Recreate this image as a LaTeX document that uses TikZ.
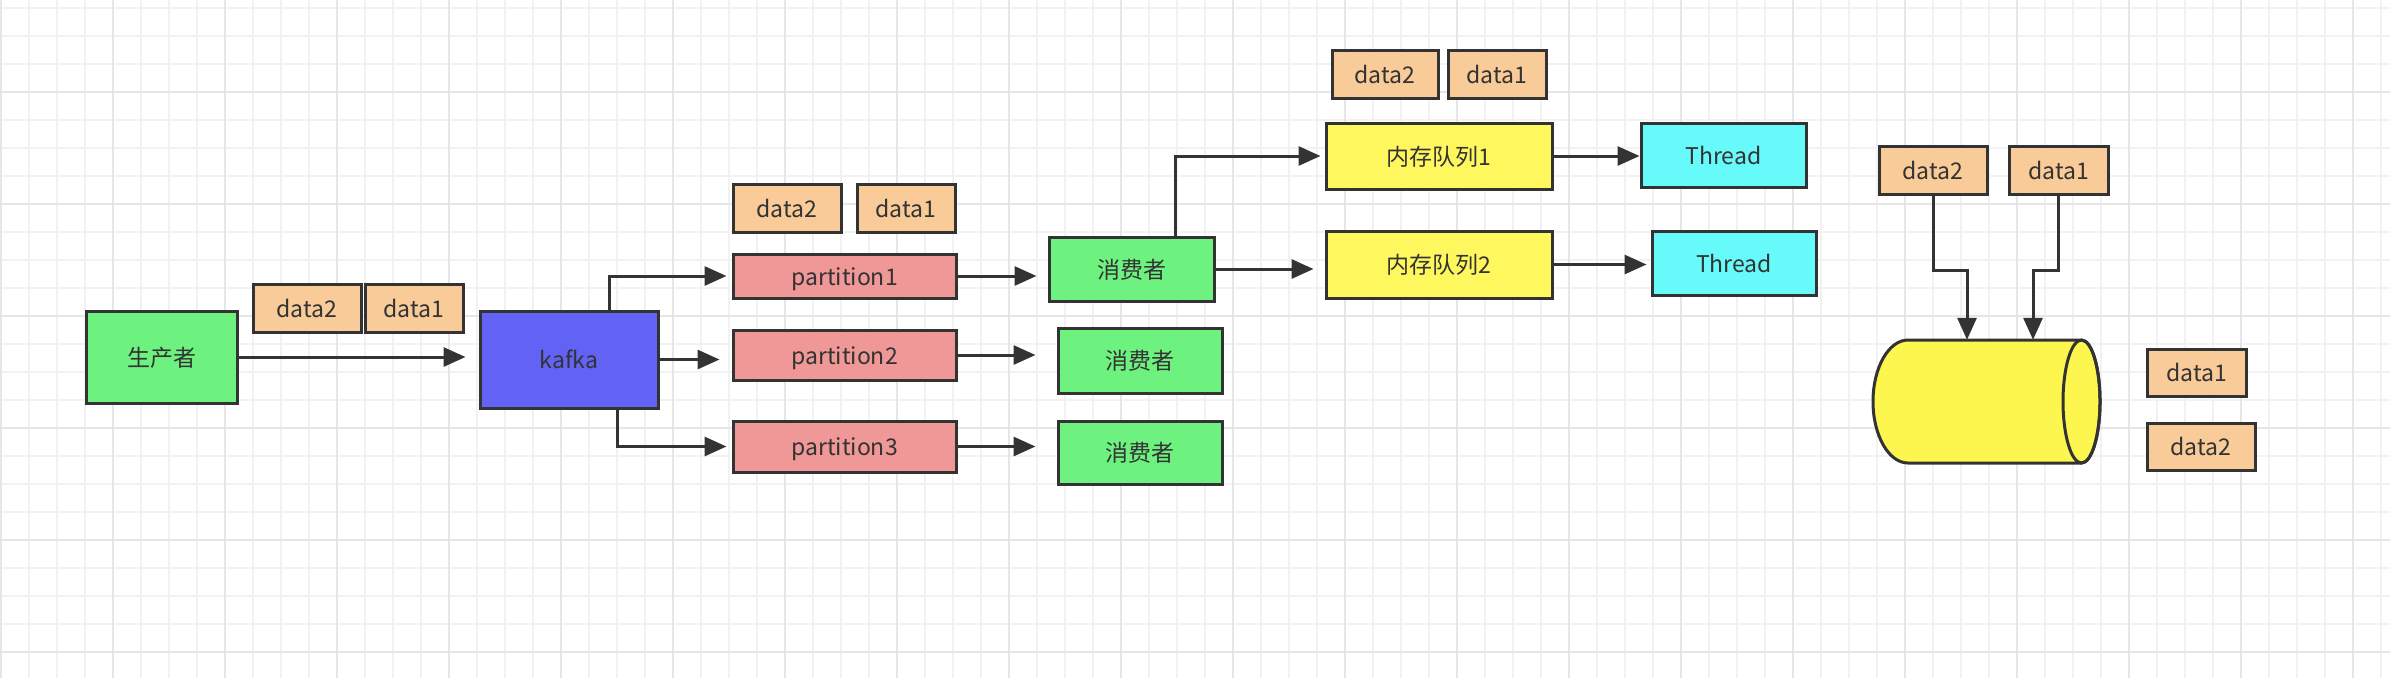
\documentclass[tikz,border=0pt]{standalone}
\usepackage{fontspec}
\setmainfont{Noto Sans CJK SC}
\usetikzlibrary{arrows.meta}
\definecolor{bd}{HTML}{333333}
\definecolor{txt}{HTML}{333333}
\definecolor{cgreen}{HTML}{6DF27F}
\definecolor{cblue}{HTML}{6262F5}
\definecolor{cdata}{HTML}{F8CB98}
\definecolor{cpart}{HTML}{F09797}
\definecolor{cyel}{HTML}{FFF75E}
\definecolor{ccyl}{HTML}{FCF64F}
\definecolor{ccyan}{HTML}{66FAFA}
\definecolor{gminor}{HTML}{F2F2F2}
\definecolor{gmajor}{HTML}{E6E6E6}
\tikzset{
  box/.style={draw=bd, line width=3pt, inner sep=0pt, text=txt,
    font=\fontsize{23}{27}\selectfont, text height=19.5pt, text depth=1.5pt},
  databox/.style={box, fill=cdata, minimum height=48pt},
  arr/.style={draw=bd, line width=3pt, -{Triangle[length=22pt,width=19pt]}},
  gridminor/.style={draw=gminor, line width=2pt},
  gridmajor/.style={draw=gmajor, line width=2pt},
}
\begin{document}
\begin{tikzpicture}[x=1pt,y=-1pt]
\useasboundingbox (0,0) rectangle (2390,678);
\fill[white] (0,0) rectangle (2390,678);
% grid
\foreach \i in {0,...,85} \draw[gridminor] ({0.5+28*\i},0) -- ({0.5+28*\i},678);
\foreach \j in {0,...,24} \draw[gridminor] (0,{8+28*\j}) -- (2390,{8+28*\j});
\foreach \i in {0,...,21} \draw[gridmajor] ({0.5+112*\i},0) -- ({0.5+112*\i},678);
\foreach \j in {1,...,6} \draw[gridmajor] (0,{-20+112*\j}) -- (2390,{-20+112*\j});

% nodes
\node[box, fill=cgreen, minimum width=151pt, minimum height=92pt] (prod) at (161.5,357) {生产者};
\node[databox, minimum width=108pt] (d2a) at (307,308) {data2};
\node[databox, minimum width=98pt] (d1a) at (414,308) {data1};
\node[box, fill=cblue, minimum width=178pt, minimum height=97pt] (kafka) at (569,359.5) {kafka};

\node[databox, minimum width=108pt] (d2b) at (787,208) {data2};
\node[databox, minimum width=98pt] (d1b) at (906,208) {data1};
\node[box, fill=cpart, minimum width=223pt, minimum height=44pt] (p1) at (844.5,276) {partition1};
\node[box, fill=cpart, minimum width=223pt, minimum height=50pt] (p2) at (844.5,355) {partition2};
\node[box, fill=cpart, minimum width=223pt, minimum height=51pt] (p3) at (844.5,446.5) {partition3};

\node[box, fill=cgreen, minimum width=165pt, minimum height=64pt] (c1) at (1131.5,269) {消费者};
\node[box, fill=cgreen, minimum width=164pt, minimum height=65pt] (c2) at (1140,360.5) {消费者};
\node[box, fill=cgreen, minimum width=164pt, minimum height=63pt] (c3) at (1140,452.5) {消费者};

\node[databox, minimum width=106pt] (d2c) at (1385,74) {data2};
\node[databox, minimum width=98pt] (d1c) at (1497,74) {data1};
\node[box, fill=cyel, minimum width=226pt, minimum height=66pt] (q1) at (1439,156) {内存队列1};
\node[box, fill=cyel, minimum width=226pt, minimum height=67pt] (q2) at (1439,264.5) {内存队列2};
\node[box, fill=ccyan, minimum width=165pt, minimum height=64pt] (t1) at (1723.5,155) {Thread};
\node[box, fill=ccyan, minimum width=164pt, minimum height=64pt] (t2) at (1734,263) {Thread};

\node[databox, minimum width=108pt] (d2d) at (1933,170) {data2};
\node[databox, minimum width=99pt] (d1d) at (2058.5,170) {data1};
\node[databox, minimum width=99pt, minimum height=47pt] (d1e) at (2196.5,372.5) {data1};
\node[databox, minimum width=108pt, minimum height=47pt] (d2e) at (2201,446.5) {data2};

% cylinder
\node[inner sep=0pt, minimum width=227pt, minimum height=123pt] (cyl) at (1986.5,401.5) {};
\filldraw[fill=ccyl, draw=bd, line width=3pt, line join=round]
  (1908,340) -- (2081.5,340) arc[start angle=-90, end angle=90, x radius=18.5, y radius=61.5]
  -- (1908,463) arc[start angle=90, end angle=270, x radius=35, y radius=61.5] -- cycle;
\draw[draw=bd, line width=3pt] (2081.5,401.5) ellipse [x radius=18.5, y radius=61.5];

% connectors
\draw[arr, shorten >=13pt] (prod.east) -- (prod.east -| kafka.west);
\draw[arr, shorten >=5pt] ([xshift=40pt]kafka.north) |- (p1.west);
\draw[arr, shorten >=12pt] (kafka.east) -- (kafka.east -| p2.west);
\draw[arr, shorten >=5pt] ([xshift=48pt]kafka.south) |- (p3.west);
\draw[arr, shorten >=11pt] (p1.east) -- (p1.east -| c1.west);
\draw[arr, shorten >=21pt] (p2.east) -- (p2.east -| c2.west);
\draw[arr, shorten >=21pt] (p3.east) -- (p3.east -| c3.west);
\draw[arr, shorten >=4pt] ([xshift=43.5pt]c1.north) |- (q1.west);
\draw[arr, shorten >=11pt] (c1.east) -- (c1.east -| q2.west);
\draw[arr] (q1.east) -- (q1.east -| t1.west);
\draw[arr, shorten >=4pt] (q2.east) -- (q2.east -| t2.west);
\draw[arr] (d2d.south) -- ++(0,75) -| ([xshift=-19.5pt]cyl.north);
\draw[arr] (d1d.south) -- ++(0,75) -| ([xshift=46.5pt]cyl.north);
\end{tikzpicture}
\end{document}
